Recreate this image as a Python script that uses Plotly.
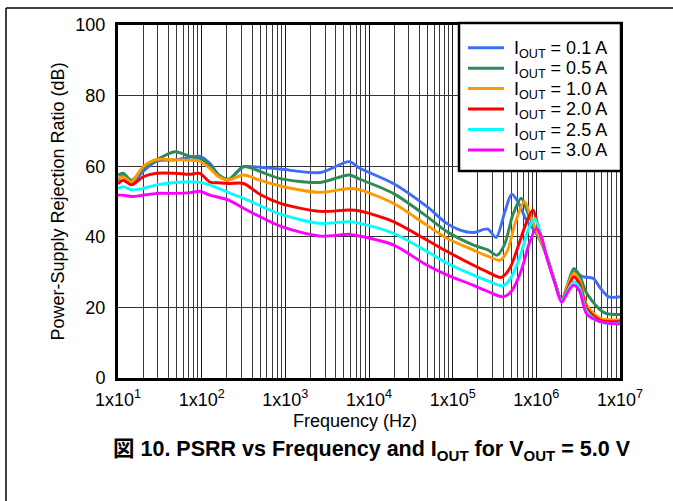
import plotly.graph_objects as go

# ---- data ----
freq_01 = [10, 11.5, 14.5, 20, 29, 48, 72, 95, 125, 160, 210, 316, 500, 870, 2600, 5800, 7800,
           19500, 49000, 85000, 123000, 175000, 263000, 330000, 420000, 507000, 600000, 750000,
           1000000, 1300000, 1660000, 2000000, 2400000, 2800000, 3600000, 4800000, 5800000, 7300000, 10000000]
psrr_01 = [56, 57.5, 55.1, 58.5, 61.4, 61.8, 62.5, 62.8, 60.8, 57.5, 56.1, 59.8, 59.7, 59.2, 58.2, 61.3, 59.4,
           55.1, 48.6, 43.8, 41.9, 41.2, 42.2, 39.8, 47, 52.1, 50, 45,
           41, 35.2, 27.3, 22, 26.5, 30.1, 28.7, 28.2, 25.5, 23, 23]

freq_05 = [10, 11.5, 14.5, 20, 29, 48, 72, 95, 125, 160, 210, 316, 500, 870, 2600, 5800, 7800,
           19500, 49000, 85000, 175000, 263000, 340000, 420000, 520000, 660000, 800000,
           1000000, 1300000, 1660000, 2000000, 2400000, 2800000, 3300000, 4000000, 5800000, 7000000, 10000000]
psrr_05 = [57.5, 58, 56, 59.4, 61.8, 64.1, 62.8, 62.2, 60.3, 57.5, 56.3, 59.9, 58.5, 56.5, 55.4, 57.5, 56.3,
           52.3, 45.8, 41.5, 37.7, 36.3, 34.8, 38, 46, 50.9, 46.5,
           41.5, 35.3, 27.3, 22, 27, 31, 29, 24, 19.3, 18.2, 18]

freq_10 = [10, 11.5, 14.5, 20, 29, 48, 72, 95, 125, 160, 210, 316, 500, 870, 2600, 5800, 7800,
           19500, 49000, 85000, 175000, 263000, 370000, 450000, 560000, 720000, 850000,
           1000000, 1300000, 1660000, 2000000, 2400000, 2800000, 3300000, 4000000, 5800000, 10000000]
psrr_10 = [56.5, 57, 55.6, 59.9, 61.9, 61.8, 61.7, 61.4, 59.4, 57, 56.1, 57.5, 56, 54.4, 52.6, 53.7, 53.3,
           49.5, 43.3, 39.6, 36.3, 34.5, 33.4, 36, 44, 50, 46,
           41.8, 35.3, 27.3, 22, 26.5, 29.7, 27.5, 20.7, 16.9, 16.5]

freq_20 = [10, 11.5, 14.5, 20, 29, 48, 72, 95, 125, 160, 210, 316, 500, 870, 2600, 5800, 7800,
           19500, 49000, 85000, 175000, 263000, 380000, 480000, 600000, 760000, 910000,
           1050000, 1300000, 1660000, 2000000, 2400000, 2800000, 3300000, 4000000, 5800000, 10000000]
psrr_20 = [55, 56, 54.7, 57, 58, 58, 57.7, 58, 55.5, 55.3, 55.1, 55.1, 52, 49.5, 47.2, 47.6, 47.3,
           44.3, 39.1, 35.9, 32, 30, 28.5, 31, 37, 44, 47.6,
           43, 35.3, 27.3, 22, 25.5, 28.7, 26.5, 19.7, 16.3, 16]

freq_25 = [10, 11.5, 14.5, 20, 29, 48, 72, 95, 125, 210, 316, 870, 2600, 5800, 7800,
           19500, 49000, 85000, 175000, 263000, 400000, 500000, 650000, 800000, 960000,
           1100000, 1300000, 1660000, 2000000, 2400000, 2800000, 3300000, 4000000, 5800000, 10000000]
psrr_25 = [53.7, 54.2, 53.3, 53.7, 54.7, 55.4, 55.6, 55.4, 54.7, 52.5, 50.9, 46.4, 43.8, 44.3, 43.8,
           41, 35.9, 32.6, 29.2, 27.5, 26.1, 28.5, 35, 42, 45.2,
           41.5, 35.3, 27.3, 22, 25, 27.3, 25.5, 18.8, 15.8, 15.5]

freq_30 = [10, 11.5, 14.5, 20, 29, 48, 72, 95, 125, 210, 316, 870, 2600, 5800, 7800,
           19500, 49000, 85000, 175000, 263000, 400000, 500000, 650000, 820000, 1000000,
           1150000, 1300000, 1660000, 2000000, 2400000, 2800000, 3300000, 4000000, 5800000, 10000000]
psrr_30 = [51.8, 51.8, 51.4, 51.8, 52.3, 52.3, 52.5, 52.9, 51.8, 50.4, 48.1, 43, 40.2, 40.7, 40.2,
           37.7, 32, 29.2, 26.3, 24.5, 23, 24.5, 30, 38, 42.4,
           40, 35, 27, 21.5, 24.5, 26.3, 24.5, 18.1, 16, 15.3]

series_names = ["I<sub>OUT</sub> = 0.1 A", "I<sub>OUT</sub> = 0.5 A", "I<sub>OUT</sub> = 1.0 A",
                "I<sub>OUT</sub> = 2.0 A", "I<sub>OUT</sub> = 2.5 A", "I<sub>OUT</sub> = 3.0 A"]
series_x = [freq_01, freq_05, freq_10, freq_20, freq_25, freq_30]
series_y = [psrr_01, psrr_05, psrr_10, psrr_20, psrr_25, psrr_30]
series_colors = ["#3d6cff", "#2e8b57", "#ff9900", "#ff0000", "#00ffff", "#ff00ff"]

x_tickvals = [1e1, 1e2, 1e3, 1e4, 1e5, 1e6, 1e7]
x_ticktext = ["1x10<sup>1</sup>", "1x10<sup>2</sup>", "1x10<sup>3</sup>", "1x10<sup>4</sup>",
              "1x10<sup>5</sup>", "1x10<sup>6</sup>", "1x10<sup>7</sup>"]
y_tickvals = [0, 20, 40, 60, 80, 100]

FONT = "Liberation Sans, Arial, Noto Sans CJK JP, sans-serif"

# plot area in pixels (for paper-coordinate layout helpers)
PX_L, PX_R, PX_T, PX_B = 118, 620, 25, 378


def px_x(px):
    return (px - PX_L) / (PX_R - PX_L)


def px_y(py):
    return (PX_B - py) / (PX_B - PX_T)


fig = go.Figure()
for name, xs, ys, col in zip(series_names, series_x, series_y, series_colors):
    fig.add_trace(go.Scatter(x=xs, y=ys, name=name, mode="lines", showlegend=False,
                             line=dict(color=col, width=2.9, shape="spline", smoothing=0.8)))

minor_vals = [k * 10 ** d for d in range(1, 7) for k in range(2, 10)]

# legend box (drawn as layout items so its size matches the reference)
shapes = [
    dict(type="line", xref="paper", yref="paper", x0=px_x(6), x1=px_x(6), y0=px_y(8), y1=px_y(505),
         line=dict(color="black", width=1.5)),
    dict(type="line", xref="paper", yref="paper", x0=px_x(6), x1=px_x(680), y0=px_y(8), y1=px_y(8),
         line=dict(color="black", width=1.5)),
    dict(type="rect", xref="paper", yref="paper", x0=px_x(459), x1=px_x(621), y0=px_y(171), y1=px_y(23),
         fillcolor="white", line=dict(color="black", width=2.5), layer="above"),
]
annotations = [
    dict(text="Frequency (Hz)", x=px_x(355), y=px_y(421), xref="paper", yref="paper",
         showarrow=False, xanchor="center", yanchor="middle", font=dict(size=18)),
    dict(text="Power-Supply Rejection Ratio (dB)", x=px_x(57), y=0.5, xref="paper", yref="paper",
         showarrow=False, textangle=-90, xanchor="center", yanchor="middle", font=dict(size=18)),
    dict(text="<b>図 10. PSRR vs Frequency and I<sub>OUT</sub> for V<sub>OUT</sub> = 5.0 V</b>",
         x=px_x(372), y=px_y(450), xref="paper", yref="paper", showarrow=False,
         xanchor="center", yanchor="middle", font=dict(size=21.5)),
]
for i, (name, col) in enumerate(zip(series_names, series_colors)):
    row_y = 47.7 + 20.46 * i
    shapes.append(dict(type="line", xref="paper", yref="paper", x0=px_x(468), x1=px_x(504),
                       y0=px_y(row_y), y1=px_y(row_y), line=dict(color=col, width=3), layer="above"))
    annotations.append(dict(text=name, x=px_x(513), y=px_y(row_y + 1.5), xref="paper", yref="paper",
                            showarrow=False, xanchor="left", yanchor="middle",
                            font=dict(size=18), borderpad=0))

fig.update_layout(
    width=673, height=501,
    margin=dict(l=PX_L, r=673 - PX_R, t=PX_T, b=501 - PX_B),
    paper_bgcolor="white", plot_bgcolor="white",
    font=dict(family=FONT, size=18, color="black"),
    showlegend=False,
    xaxis=dict(type="log", range=[1, 7], tickvals=x_tickvals, ticktext=x_ticktext,
               showgrid=True, gridcolor="#1a1a1a", gridwidth=1,
               minor=dict(tickmode="array", tickvals=minor_vals, showgrid=True,
                          gridcolor="#3a3a3a", gridwidth=1, ticks=""),
               showline=True, linecolor="black", linewidth=3, mirror=True,
               ticks="", zeroline=False, tickfont=dict(size=18), ticklabelstandoff=3),
    yaxis=dict(range=[0, 100], tickvals=y_tickvals, showgrid=True, gridcolor="#333333",
               gridwidth=1, showline=True, linecolor="black", linewidth=3, mirror=True,
               ticks="", zeroline=False, tickfont=dict(size=18), ticklabelstandoff=6),
    annotations=annotations,
    shapes=shapes,
)

fig.write_html("out.html", config={"displayModeBar": False},
               post_script="document.body.style.margin='0';")
